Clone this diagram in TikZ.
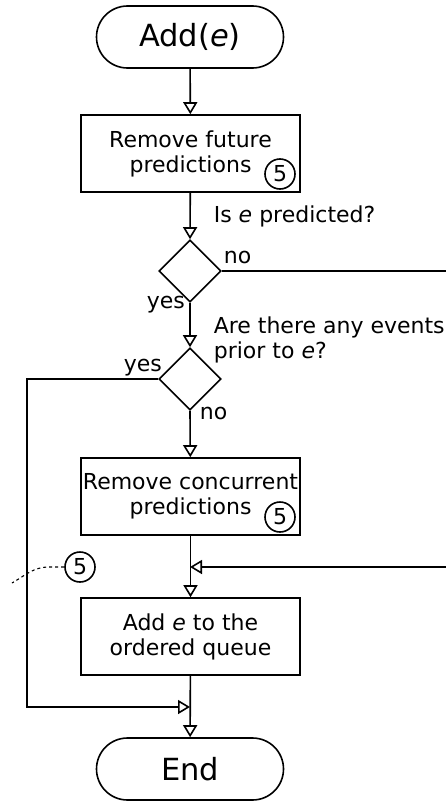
\documentclass[tikz,border=0pt]{standalone}
\usepackage{fontspec}
\setmainfont{DejaVu Sans}
\usetikzlibrary{arrows.meta,shapes.geometric}
\begin{document}
\begin{tikzpicture}[x=1pt,y=-1pt,
  line width=1.6pt,
  every node/.style={font=\fontsize{22}{25}\selectfont},
  terminal/.style={draw, rounded corners=31pt, minimum width=187pt, minimum height=62pt,
    inner sep=0pt, font=\fontsize{30.5}{36}\selectfont},
  process/.style={draw, minimum width=219pt, minimum height=77pt, inner sep=0pt, align=center,
    execute at begin node={\rule{0pt}{20pt}}},
  decision/.style={draw, diamond, minimum width=62pt, minimum height=62pt, inner sep=0pt},
  refmark/.style={draw, circle, minimum size=30pt, inner sep=0pt},
  flow/.style={-{Triangle[open,length=12pt,width=14pt]}},
  lbl/.style={anchor=base west, inner sep=0pt, align=left},
  leader/.style={line width=1.1pt, dash pattern=on 3pt off 3pt}
]
\useasboundingbox (0,0) rectangle (446,803);

% main column
\node[terminal] (start) at (190,37) {Add(\textit{e})};
\node[process] (b1) at (190.5,153.5) {Remove future\\predictions};
\node[refmark] (r1) at (280,174) {5};
\node[decision] (d1) at (190,271) {};
\node[decision] (d2) at (190,379) {};
\node[process] (b2) at (190.5,496.5) {Remove concurrent\\predictions};
\node[refmark] (r2) at (280,517) {5};
\node[process] (b3) at (190.5,636.5) {Add \textit{e} to the\\ordered queue};
\node[terminal] (end) at (190,769) {End};
\node[refmark] (r3) at (80,567) {5};

% junctions and open ends
\coordinate (m1) at (190,567);
\coordinate (m2) at (190,707);
\coordinate (eastA) at (446,271);
\coordinate (eastB) at (446,567);
\coordinate (lft) at (27,379);
\coordinate (dashEnd) at (12,583);

% questions and branch labels
\node[lbl] (q1) at (213,222) {Is \textit{e} predicted?};
\node[lbl] (q2) at (213,358) {Are there any events\\prior to \textit{e}?};
\node[lbl] (n1) at (223,263) {no};
\node[lbl] (y1) at (146,308) {yes};
\node[lbl] (y2) at (123,371) {yes};
\node[lbl] (n2) at (199,419) {no};

% connectors
\draw[flow] (start) -- (b1);
\draw[flow] (b1) -- (d1.north);
\draw (d1.east) -- (eastA);
\draw[flow] (d1.south) -- (d2.north);
\draw[flow] (d2.south) -- (b2);
\draw[flow] (b2) -- (b3);
\draw[flow] (eastB) -- (m1);
\draw[flow] (b3) -- (end);
\draw[flow] (d2.west) -- (lft) |- (m2);
\draw[leader] (r3.west) -- ++(-15,0) to[out=180,in=30] (dashEnd);
\end{tikzpicture}
\end{document}
